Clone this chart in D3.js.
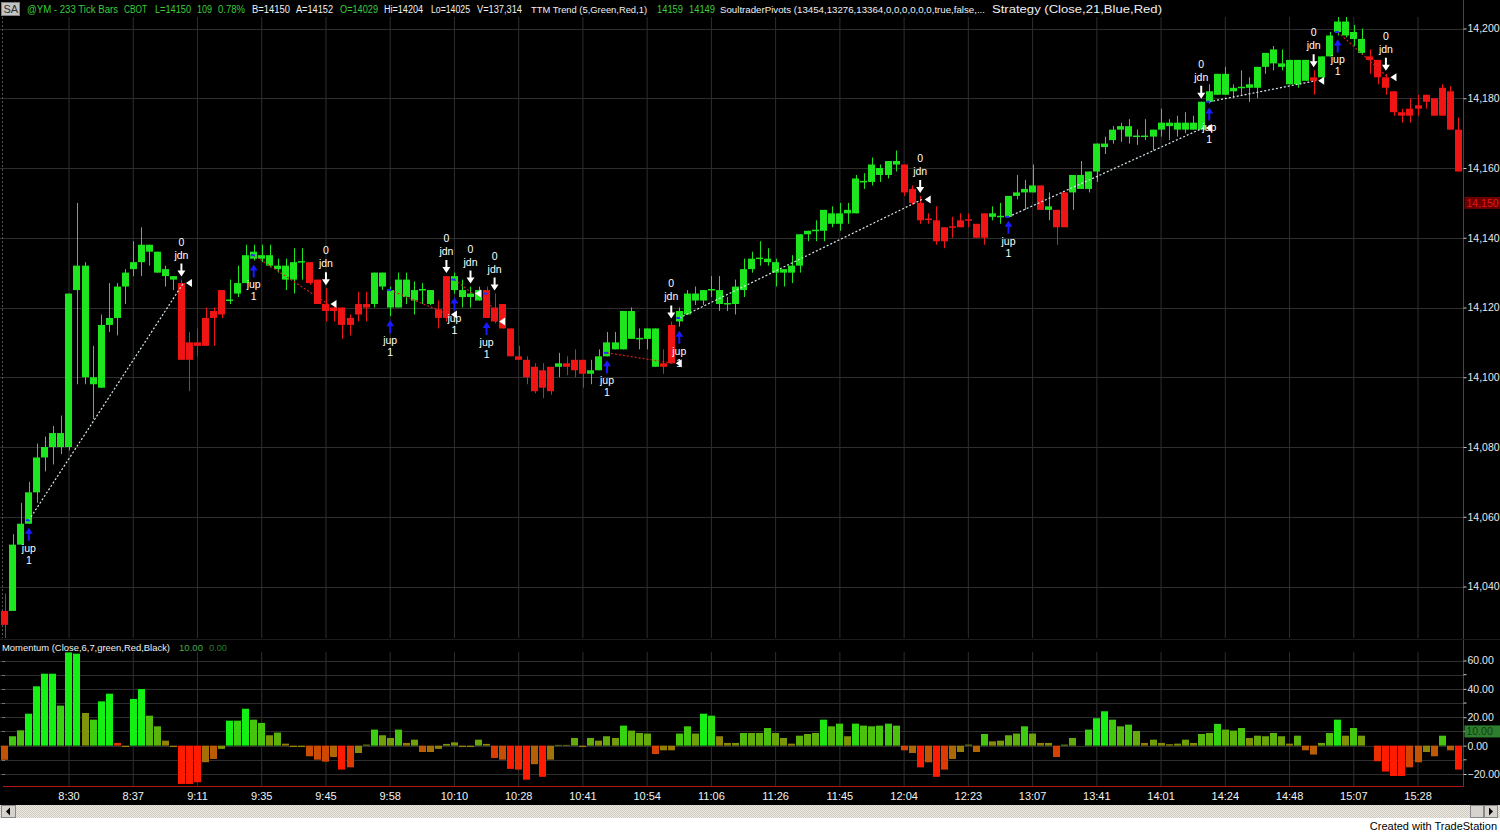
<!DOCTYPE html>
<html><head><meta charset="utf-8">
<script src="https://cdn.jsdelivr.net/npm/d3@7"></script>
<style>html,body{margin:0;padding:0;background:#000;}svg{display:block}</style>
</head><body>
<svg id="c" width="1500" height="832"></svg>
<script>
// ---------------- DATA ----------------
const opens  = [14033,14033,14052,14058,14067,14077,14080,14080,14080,14125,14100,14098,14097,14115,14117,14126,14131,14133,14136,14130,
14129,14128,14127,14110,14110,14117,14119,14125,14122,14124,14127,14134,14134,14132,14131,14128,14128,14133,14133,14128,
14121,14120,14120,14117,14121,14121,14121,14126,14120,14120,14123,14122,14125,14121,14119.5,14129,14125,14123,14123,14122,
14125,14120,14121,14114,14106,14105,14103,14102,14103,14103,14104,14105,14105,14101,14102,14106,14108,14108,14111,14111,
14111,14103,14104,14115,14116,14118,14122,14122,14125,14121,14121,14121,14125,14131,14134,14133,14130,14130,14130,14132,
14141,14142,14142,14144,14144,14147,14147,14156,14156,14158,14158,14161,14161,14154,14150,14145.5,14145,14143,14143.3,14145,
14145.3,14144,14147,14146,14146,14146,14152,14153,14153,14155,14148,14148,14153,14153,14154,14154,14159,14166,14168,14171,
14169,14169,14169,14169,14171,14172,14171,14171,14171,14171,14179,14181,14181,14182,14183,14183,14183,14189,14190,14189,
14184,14184,14185,14186,14186,14192,14199,14198,14197,14193,14192,14191,14186,14182,14176,14177,14178,14181,14180,14183,
14182,14171];
const highs  = [14038,14055,14064,14070,14081,14083,14086,14089,14124,14150,14133,14109,14118,14127,14127,14131,14139,14143,14138,14136,
14132,14129,14128,14113,14114,14120,14120,14125,14128,14132,14138,14138,14138,14138,14134,14134,14137,14137,14133,14128,
14125.5,14121,14120,14118,14124.5,14124.5,14130,14130,14126,14130,14130,14127.5,14127,14125,14122,14129,14130,14128,14126,14126,
14126,14124,14121,14114,14109,14106,14104,14104,14103,14107,14106,14108,14105,14105,14108,14113,14113,14119,14120,14114,
14114,14114,14108,14116,14120,14125,14126,14125,14129,14129,14123,14128,14134,14136,14139,14137,14134,14131,14135,14141,
14142,14145,14148,14149,14150,14150,14158,14158.5,14163,14161,14162,14165,14161,14155,14152,14147,14149,14143,14146,14147,
14147,14144,14147,14149,14150,14152,14158,14156.6,14161,14155,14153,14148,14153,14158,14162,14159,14167,14169,14172,14173,
14174,14171,14174,14171,14177,14174,14175,14176,14175,14179,14184,14187,14189,14184,14188,14186,14189,14193,14195,14194,
14191,14191,14191,14188,14192,14199,14204,14204,14201,14200,14194,14191,14187,14182,14177,14180,14181,14181,14180,14184,
14183.5,14174.5];
const lows   = [14025,14033,14052,14058,14064,14073,14075,14078,14079,14098,14098,14088,14097,14113,14112,14121,14129,14129,14132,14130,
14126,14125,14105,14096,14106,14109,14109,14117,14121,14123,14127,14133.5,14133,14131.5,14130,14125,14124,14128,14126.5,14121,
14116,14116,14111,14112,14116,14116,14120,14125,14117.5,14120,14121,14118,14121,14120.7,14114,14116,14124,14120,14120,14122,
14117,14115.5,14114,14106,14105,14098,14095.4,14094,14095,14100,14100.6,14100,14097,14098,14102,14106,14108,14108,14111,14108,
14108,14103,14101,14104,14114.5,14118,14120.7,14120.7,14123,14119,14119,14118,14123,14130,14132,14132,14126,14126,14127,14130,
14139,14139,14139,14143,14142,14144,14147,14154,14155,14156,14157,14159,14152,14149.4,14144,14144,14138,14137,14140,14143,
14143,14140,14138,14145,14144,14146,14151,14148,14153,14148,14145,14138,14143,14148,14154,14153,14156,14164,14167,14167.5,
14167,14166.6,14168,14165,14169,14168,14169,14170,14171,14171,14178.5,14181,14181,14180,14181,14179,14180,14187,14188,14188,
14184,14183,14185,14181,14186,14192,14198,14197.5,14195,14192.4,14187,14184,14181,14175,14173,14173,14175,14177,14175,14175,
14171,14159];
const closes = [14029,14052,14058,14067,14077,14080,14084,14084,14124,14132,14132,14100,14115,14117,14126,14130,14133,14138,14138,14136,
14131,14129,14105,14105,14109,14109,14117,14118,14122.3,14127,14135,14136,14135,14135,14132,14132,14133,14133.3,14127,14121,
14119,14119,14115,14115,14118,14120,14130,14130,14125,14128,14128,14125,14125.3,14125,14117,14117,14129,14125,14124,14125,
14117,14116,14114,14106,14105,14100,14096,14097,14096,14104,14103,14102,14101,14102,14106,14110,14110,14119,14119,14111.3,
14114,14114,14103,14104,14119,14124,14124,14125,14125.3,14125,14121.3,14126,14131,14134,14134.3,14134,14133,14131,14132,14141,
14142,14142.3,14148,14147,14147,14148,14157,14156.3,14161,14160,14162,14162,14153,14150,14145,14145.2,14139,14139,14143,14143,
14145,14140,14140,14147,14146.3,14152,14153,14154,14155,14148,14149,14143,14143,14158,14158,14159,14167,14167,14171,14172,
14172,14169.3,14169.3,14171,14173,14173,14173,14173,14173,14179,14182,14187,14187,14183,14183.3,14184,14189,14193,14194,14190,
14191,14191,14191,14185,14192,14198,14202,14202,14199,14197,14191,14186,14183,14176,14175,14175,14177,14179,14175,14175,
14171,14159];
const momentum = [-10,6.6,10.8,22.5,41.8,50.7,50.7,28.2,65.7,64.8,23,18.3,31.2,36.6,1.9,-1,32.9,39.9,21.1,13.6,
3.5,-1,-27,-27,-25.8,-11.7,-9.4,-2.3,17.6,17.6,26,18.3,16,7.3,9.2,1.4,-1,-1,-7.5,-9.9,
-11.3,-8,-16.9,-15.3,-5.2,0.7,11.3,7.3,5.4,11.3,1.9,4.2,-4.5,-4.5,-2.3,1.2,2.3,-1,-1,4.2,
1.2,-8.7,-9.9,-16.4,-16.9,-24,-13.1,-22,-9.9,0.5,0.5,5.4,-1,5.4,3.5,6.6,5.4,14.1,10.6,8.9,
8.5,-5.9,-3.3,-3.3,8.5,13.6,8.5,22.5,21.1,6.6,1.9,1.9,8.9,8.9,8.9,12.4,8.9,5.4,1.4,7,
8.2,8.9,18.3,13.6,15.5,6.6,15.5,14.1,13.6,14.1,15.5,14.1,-3.3,-5.2,-15.3,-11.7,-22,-16.9,-9.4,-4.5,
0.7,-4.5,8.2,3,3.5,7.3,8.5,13.6,8.5,1.9,1.9,-8,0.7,5.4,0,11.3,19.3,24.2,18.3,13.6,
14.8,10.3,1.9,4.2,1.9,1,1.4,4.2,1.9,8.2,8.9,15.3,11.3,10.6,12.4,5.4,7,6.6,8.9,6.6,
1.4,7,-3.3,-6.3,1.9,8.9,18.3,7,12.4,7,0,-11,-18.3,-21.4,-21.4,-15.3,-11.7,-4.5,-7.5,7,
-3.3,-16.9];
const timeLabels = ["8:30","8:37","9:11","9:35","9:45","9:58","10:10","10:28","10:41","10:54","11:06",
"11:26","11:45","12:04","12:23","13:07","13:41","14:01","14:24","14:48","15:07","15:28"];
const priceTicks = [14040,14060,14080,14100,14120,14140,14160,14180,14200];
const momTicks = [-20,0,20,40,60];
const jdnBars = [22,40,55,58,61,83,114,149,163,172];
const jupBars = [3,31,48,56,60,75,84,125,150,166];
const tradeEntryBar   = [3,31,48,56,60,75,84,125,150,166];
const tradeEntryPrice = [14059,14135,14125,14128,14124,14107,14117,14146,14179,14199];
const tradeExitBar    = [22,40,55,58,61,83,114,149,163,172];
const tradeExitPrice  = [14127,14121,14118,14124,14116,14104,14151,14171.5,14185,14186];
const lastPrice = 14150;
const momReadout = 10;

// ---------------- DRAW ----------------
const W = 1500, H = 832, AX = 1463.5;
const FONT = "'Liberation Sans', Arial, sans-serif";
const svg = d3.select("#c");
const N = opens.length;
const idx = d3.range(N);

const x = d3.scaleBand().domain(idx).range([0.26, 0.26 + 8.03 * (N + 0.12)]).padding(0.12);
const bw = x.bandwidth();
const cx = i => x(i) + bw / 2;
const y = d3.scaleLinear().domain([14040, 14200]).range([586.5, 28.5]);
const ym = d3.scaleLinear().domain([-20, 60]).range([774, 660.5]);

const GREEN = "#1ee61e", RED = "#f01414", GRID = "#2e2e2e";

svg.append("rect").attr("width", W).attr("height", H).attr("fill", "#000");

const defs = svg.append("defs");
defs.append("clipPath").attr("id", "pclip").append("rect").attr("x", 0).attr("y", 17).attr("width", AX).attr("height", 621);
const pat = defs.append("pattern").attr("id", "hatch").attr("width", 2).attr("height", 2).attr("patternUnits", "userSpaceOnUse");
pat.append("rect").attr("width", 2).attr("height", 2).attr("fill", "#ece9e2");
pat.append("rect").attr("width", 1).attr("height", 1).attr("fill", "#cfcbc3");
pat.append("rect").attr("x", 1).attr("y", 1).attr("width", 1).attr("height", 1).attr("fill", "#cfcbc3");

const tickBars = timeLabels.map((d, k) => (k + 1) * 8);

// grid lines price panel
const gP = svg.append("g");
gP.selectAll("line.v").data(tickBars).join("line")
  .attr("x1", d => cx(d)).attr("x2", d => cx(d)).attr("y1", 17).attr("y2", 638)
  .attr("stroke", GRID).attr("stroke-width", 1);
gP.selectAll("line.h").data(priceTicks).join("line")
  .attr("x1", 0).attr("x2", AX).attr("y1", d => Math.round(y(d)) + 0.5).attr("y2", d => Math.round(y(d)) + 0.5)
  .attr("stroke", GRID);
svg.append("line").attr("x1", 2.5).attr("x2", 2.5).attr("y1", 17).attr("y2", 638)
  .attr("stroke", "#555").attr("stroke-dasharray", "2,2");

// grid lines momentum panel
const gM = svg.append("g");
gM.selectAll("line.v").data(tickBars).join("line")
  .attr("x1", d => cx(d)).attr("x2", d => cx(d)).attr("y1", 652).attr("y2", 786)
  .attr("stroke", GRID);
gM.selectAll("line.h").data(d3.range(-20, 61, 10)).join("line")
  .attr("x1", 0).attr("x2", AX).attr("y1", d => Math.round(ym(d)) + 0.5).attr("y2", d => Math.round(ym(d)) + 0.5)
  .attr("stroke", GRID);
gM.selectAll("line.lt").data(d3.range(-20, 61, 10)).join("line")
  .attr("x1", 2).attr("x2", 5).attr("y1", d => Math.round(ym(d)) + 0.5).attr("y2", d => Math.round(ym(d)) + 0.5)
  .attr("stroke", "#777");

// candles
const gC = svg.append("g").attr("clip-path", "url(#pclip)");
const col = i => closes[i] >= opens[i] ? GREEN : RED;
gC.selectAll("line.w").data(idx).join("line")
  .attr("x1", i => Math.round(cx(i)) + 0.5).attr("x2", i => Math.round(cx(i)) + 0.5)
  .attr("y1", i => y(highs[i])).attr("y2", i => y(lows[i]))
  .attr("stroke", col).attr("stroke-width", 1);
gC.selectAll("rect.b").data(idx).join("rect")
  .attr("x", i => Math.round(x(i)))
  .attr("width", Math.round(bw))
  .attr("y", i => y(Math.max(opens[i], closes[i])))
  .attr("height", i => Math.max(1.5, Math.abs(y(opens[i]) - y(closes[i]))))
  .attr("fill", col);

// trade lines
const trades = d3.range(tradeEntryBar.length);
gC.selectAll("line.t").data(trades).join("line")
  .attr("x1", k => cx(tradeEntryBar[k])).attr("y1", k => y(tradeEntryPrice[k]))
  .attr("x2", k => cx(tradeExitBar[k]) + 2).attr("y2", k => y(tradeExitPrice[k]))
  .attr("stroke", k => tradeExitPrice[k] > tradeEntryPrice[k] ? "#d8e8f0" : "#d02020")
  .attr("stroke-width", 1.2).attr("stroke-dasharray", "2,2");
gC.selectAll("rect.en").data(trades).join("rect")
  .attr("x", k => cx(tradeEntryBar[k]) - 3).attr("y", k => y(tradeEntryPrice[k]) - 1)
  .attr("width", 4).attr("height", 2).attr("fill", "#2030ff");
gC.selectAll("path.ex").data(trades).join("path")
  .attr("d", k => {
    const px = cx(tradeExitBar[k]) + bw / 2 + 1, py = y(tradeExitPrice[k]);
    return `M${px},${py}L${px + 6},${py - 4}L${px + 6},${py + 4}Z`;
  })
  .attr("fill", "#ffffff");

// signal markers
const gS = svg.append("g").attr("font-family", FONT).attr("font-size", 10.5).attr("text-anchor", "middle");
jdnBars.forEach(b => {
  const px = cx(b), py = y(highs[b]);
  gS.append("path").attr("d", `M${px - 1},${py - 16}h2v7h3l-4,6l-4,-6h3z`).attr("fill", "#fff");
  gS.append("text").attr("x", px).attr("y", py - 21).attr("fill", "#fff").text("jdn");
  gS.append("text").attr("x", px).attr("y", py - 34).attr("fill", "#fff").text("0");
});
jupBars.forEach(b => {
  const px = cx(b), py = y(lows[b]);
  gS.append("path").attr("d", `M${px},${py + 4}l4,6h-3v7h-2v-7h-3z`).attr("fill", "#1a1aff");
  gS.append("text").attr("x", px).attr("y", py + 28).attr("fill", "#fff").text("jup");
  gS.append("text").attr("x", px).attr("y", py + 40).attr("fill", "#fff").text("1");
});

// momentum bars
const shade = d3.scaleLinear().domain([-12, 0, 15]).range(["#ff1a00", "#8a8a08", "#14f014"]).clamp(true);
const score = i => 0.6 * momentum[i] + 0.3 * (momentum[i] - (i > 0 ? momentum[i - 1] : momentum[i]));
svg.append("g").selectAll("rect").data(idx).join("rect")
  .attr("x", i => Math.round(x(i)))
  .attr("width", Math.round(bw))
  .attr("y", i => ym(Math.max(0, momentum[i])))
  .attr("height", i => Math.max(0.01, Math.abs(ym(momentum[i]) - ym(0))))
  .attr("fill", i => shade(score(i)));

// frame lines
svg.append("line").attr("x1", AX).attr("x2", AX).attr("y1", 0).attr("y2", 786.5).attr("stroke", "#b01818");
svg.append("line").attr("x1", 3).attr("x2", AX).attr("y1", 786.5).attr("y2", 786.5).attr("stroke", "#b01818");
svg.append("line").attr("x1", 0).attr("x2", W).attr("y1", 639.5).attr("y2", 639.5).attr("stroke", "#1c1c1c");

// price axis
const pa = svg.append("g").attr("transform", `translate(${AX},0)`)
  .call(d3.axisRight(y).tickValues(priceTicks).tickFormat(d3.format(",")).tickSize(3).tickPadding(1));
pa.select(".domain").remove();
pa.selectAll("line").attr("stroke", "#c8c8c8");
pa.selectAll("text").attr("fill", "#e8e8e8").attr("font-family", FONT).attr("font-size", 10.5);

// momentum axis
const ma = svg.append("g").attr("transform", `translate(${AX},0)`)
  .call(d3.axisRight(ym).tickValues(momTicks).tickFormat(d3.format(".2f")).tickSize(3).tickPadding(1));
ma.select(".domain").remove();
ma.selectAll("line").attr("stroke", "#c8c8c8");
ma.selectAll("text").attr("fill", "#e8e8e8").attr("font-family", FONT).attr("font-size", 10.5);
svg.append("g").selectAll("line").data(d3.range(-10, 61, 20)).join("line")
  .attr("x1", AX).attr("x2", AX + 3).attr("y1", d => ym(d)).attr("y2", d => ym(d)).attr("stroke", "#c8c8c8");

// last price box
svg.append("rect").attr("x", AX + 1).attr("y", y(lastPrice) - 6).attr("width", 36).attr("height", 12).attr("fill", "#6a0000");
svg.append("text").attr("x", AX + 3).attr("y", y(lastPrice) + 4).attr("fill", "#e01818")
  .attr("font-family", FONT).attr("font-size", 10.5).text(d3.format(",")(lastPrice));
// momentum readout box
svg.append("rect").attr("x", AX + 1).attr("y", ym(momReadout) - 6).attr("width", 36).attr("height", 12).attr("fill", "#2f7d2f");
svg.append("text").attr("x", AX + 3).attr("y", ym(momReadout) + 4).attr("fill", "#0f3f0f")
  .attr("font-family", FONT).attr("font-size", 10.5).text(d3.format(".2f")(momReadout));

// time axis
const ta = svg.append("g").attr("transform", "translate(0,786)")
  .call(d3.axisBottom(x).tickValues(tickBars).tickFormat(d => timeLabels[d / 8 - 1]).tickSize(0).tickPadding(6));
ta.select(".domain").remove();
ta.selectAll("text").attr("fill", "#f0f0f0").attr("font-family", FONT).attr("font-size", 11);

// header
const hdr = svg.append("g").attr("font-family", FONT).attr("font-size", 10);
hdr.append("rect").attr("x", 1.5).attr("y", 2.5).attr("width", 18).attr("height", 13).attr("fill", "#c4c4c4").attr("stroke", "#808080");
hdr.append("text").attr("x", 3.5).attr("y", 13).attr("fill", "#303030").attr("font-size", 11).text("SA");
const G1 = "#3ccc3c", WH = "#f0f0f0";
const segs = [
  [27, 91, "@YM - 233 Tick Bars", G1, 10], [124, 23, "CBOT", G1, 10], [155, 36, "L=14150", G1, 10], [197, 15, "109", G1, 10], [218, 27, "0.78%", G1, 10],
  [252, 38, "B=14150", WH, 10], [296, 37, "A=14152", WH, 10], [340, 38, "O=14029", G1, 10], [384, 39, "Hi=14204", WH, 10], [431, 39, "Lo=14025", WH, 10],
  [477, 45, "V=137,314", WH, 10], [531, 116, "TTM Trend (5,Green,Red,1)", WH, 9.5], [657, 26, "14159", G1, 10], [689, 26, "14149", G1, 10],
  [720, 265, "SoultraderPivots (13454,13276,13364,0,0,0,0,0,0,true,false,...", WH, 9], [992, 170, "Strategy (Close,21,Blue,Red)", WH, 10]
];
segs.forEach(s => hdr.append("text").attr("x", s[0]).attr("y", 13).attr("fill", s[3]).attr("font-size", s[4])
  .attr("textLength", s[1]).attr("lengthAdjust", "spacingAndGlyphs").text(s[2]));

// momentum title
const mt = svg.append("g").attr("font-family", FONT).attr("font-size", 9.8);
mt.append("text").attr("x", 2).attr("y", 651).attr("fill", WH)
  .attr("textLength", 168).attr("lengthAdjust", "spacingAndGlyphs").text("Momentum (Close,6,7,green,Red,Black)");
mt.append("text").attr("x", 179).attr("y", 651).attr("fill", "#4aa84a")
  .attr("textLength", 24).attr("lengthAdjust", "spacingAndGlyphs").text("10.00");
mt.append("text").attr("x", 209).attr("y", 651).attr("fill", "#2e7a2e")
  .attr("textLength", 18).attr("lengthAdjust", "spacingAndGlyphs").text("0.00");

// scrollbar
svg.append("rect").attr("x", 0).attr("y", 805).attr("width", W).attr("height", 27).attr("fill", "#fff");
svg.append("rect").attr("x", 0).attr("y", 805).attr("width", W).attr("height", 13).attr("fill", "url(#hatch)");
svg.append("rect").attr("x", 1.5).attr("y", 805.5).attr("width", 14).attr("height", 12).attr("fill", "#d6d3ce").attr("stroke", "#888");
svg.append("path").attr("d", "M6,811.5l4,-4v8z").attr("fill", "#000");
svg.append("rect").attr("x", 1470.5).attr("y", 805.5).attr("width", 13).attr("height", 12).attr("fill", "#d6d3ce").attr("stroke", "#888");
svg.append("rect").attr("x", 1484.5).attr("y", 805.5).attr("width", 13).attr("height", 12).attr("fill", "#d6d3ce").attr("stroke", "#888");
svg.append("path").attr("d", "M1489,807.5l4,4l-4,4z").attr("fill", "#000");
svg.append("text").attr("x", 1497).attr("y", 830).attr("text-anchor", "end").attr("fill", "#000")
  .attr("font-family", FONT).attr("font-size", 11).text("Created with TradeStation");
</script>
</body></html>
